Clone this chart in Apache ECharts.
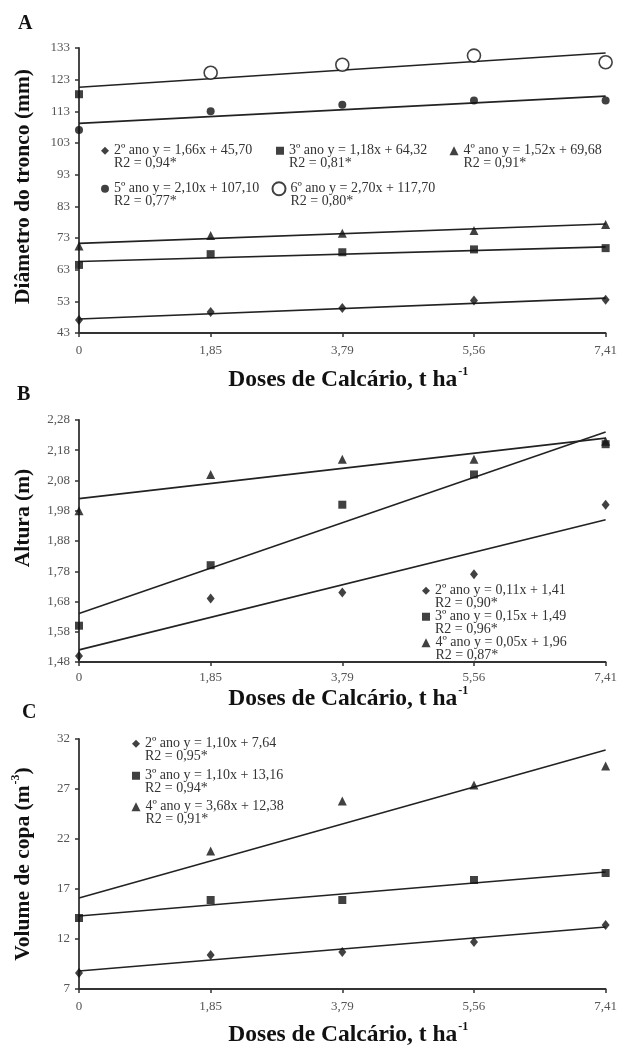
<!DOCTYPE html>
<html>
<head>
<meta charset="utf-8">
<script src="https://cdn.jsdelivr.net/npm/echarts@6/dist/echarts.min.js"></script>
<style>
html,body{margin:0;padding:0;background:#fff;}
#chart{width:620px;height:1048px;}
</style>
</head>
<body>
<div id="chart"></div>
<script>
// ---- categories & tick labels ----
const xLabels = ['0', '1,85', '3,79', '5,56', '7,41'];
const yTicksA = [43, 53, 63, 73, 83, 93, 103, 113, 123, 133];
const yTicksB = [1.48, 1.58, 1.68, 1.78, 1.88, 1.98, 2.08, 2.18, 2.28];
const yTicksC = [7, 12, 17, 22, 27, 32];

// ---- Panel A: Diâmetro do tronco (mm) ----
const a2 = [47.1, 49.6, 50.9, 53.3, 53.5];
const a3 = [64.5, 67.9, 68.5, 69.4, 69.8];
const a4 = [70.5, 73.8, 74.5, 75.4, 77.3];
const a5 = [107.1, 113.0, 115.1, 116.4, 116.4];
const a6 = [118.4, 125.2, 127.7, 130.6, 128.5];
const a2Fit = [47.4, 54.0];
const a3Fit = [65.6, 70.2];
const a4Fit = [71.3, 77.4];
const a5Fit = [109.2, 117.8];
const a6Fit = [120.6, 131.4];

// ---- Panel B: Altura (m) ----
const b2 = [1.50, 1.69, 1.71, 1.77, 2.00];
const b3 = [1.60, 1.80, 2.00, 2.10, 2.20];
const b4 = [1.98, 2.10, 2.15, 2.15, 2.21];
const b2Fit = [1.52, 1.95];
const b3Fit = [1.64, 2.24];
const b4Fit = [2.02, 2.22];

// ---- Panel C: Volume de copa (m-3) ----
const c2 = [8.6, 10.4, 10.7, 11.7, 13.4];
const c3 = [14.1, 15.9, 15.9, 17.9, 18.6];
const c4 = [null, 20.8, 25.8, 27.4, 29.3];
const c2Fit = [8.8, 13.2];
const c3Fit = [14.3, 18.7];
const c4Fit = [16.1, 30.9];

// ---- legend texts ----
const legendText = {
  'A2': '2º ano y = 1,66x + 45,70\nR2 = 0,94*',
  'A3': '3º ano y = 1,18x + 64,32\nR2 = 0,81*',
  'A4': '4º ano y = 1,52x + 69,68\nR2 = 0,91*',
  'A5': '5º ano y = 2,10x + 107,10\nR2 = 0,77*',
  'A6': '6º ano y = 2,70x + 117,70\nR2 = 0,80*',
  'B2': '2º ano y = 0,11x + 1,41\nR2 = 0,90*',
  'B3': '3º ano y = 0,15x + 1,49\nR2 = 0,96*',
  'B4': '4º ano y = 0,05x + 1,96\nR2 = 0,87*',
  'C2': '2º ano y = 1,10x + 7,64\nR2 = 0,95*',
  'C3': '3º ano y = 1,10x + 13,16\nR2 = 0,94*',
  'C4': '4º ano y = 3,68x + 12,38\nR2 = 0,91*'
};

const SERIF = '"Liberation Serif", "DejaVu Serif", serif';
const INK = '#111';

const symbols = {
  '2': {symbol: 'diamond', symbolSize: [8, 10]},
  '3': {symbol: 'rect', symbolSize: 8},
  '4': {symbol: 'triangle', symbolSize: 9},
  '5': {symbol: 'circle', symbolSize: 8},
  '6': {symbol: 'circle', symbolSize: 13}
};

function pts(name, idx, data) {
  const k = name.charAt(1);
  const s = {
    name: name, type: 'scatter', xAxisIndex: idx, yAxisIndex: idx,
    symbol: symbols[k].symbol, symbolSize: symbols[k].symbolSize,
    itemStyle: {color: INK},
    data: data, z: 5, silent: true
  };
  if (k === '6') s.itemStyle = {color: '#fff', borderColor: INK, borderWidth: 1.6};
  return s;
}
function fit(idx, vals) {
  return {
    type: 'line', xAxisIndex: idx, yAxisIndex: idx, symbol: 'none', silent: true,
    lineStyle: {color: '#222', width: 1.6},
    data: [[xLabels[0], vals[0]], [xLabels[xLabels.length - 1], vals[1]]], z: 3
  };
}
function legend(name, cx, y1, size) {
  const lh = 12.5;
  return {
    data: [name], left: cx - size / 2, top: y1 - 1.5 * lh, padding: 0,
    itemWidth: size, itemHeight: size, selectedMode: false,
    textStyle: {fontFamily: SERIF, fontSize: 14, color: '#333', lineHeight: lh},
    formatter: n => '\n' + legendText[n]
  };
}

const gridsPos = [
  {left: 79, right: 11, top: 48, height: 285},
  {left: 79, right: 11, top: 420, height: 242},
  {left: 79, right: 11, top: 739, height: 250}
];

const xRich = {
  t: {fontFamily: SERIF, fontSize: 23.5, fontWeight: 'bold', color: INK, lineHeight: 27},
  s: {fontFamily: SERIF, fontSize: 12, fontWeight: 'bold', color: INK, verticalAlign: 'top', lineHeight: 27, padding: [0, 0, 0, 1]}
};
const yRich = {
  t: {fontFamily: SERIF, fontSize: 21.5, fontWeight: 'bold', color: INK, lineHeight: 26},
  s: {fontFamily: SERIF, fontSize: 12, fontWeight: 'bold', color: INK, verticalAlign: 'top', lineHeight: 26, padding: [0, 0, 0, 1]}
};

function xAx(idx, nameGap, labelMargin) {
  return {
    type: 'category', gridIndex: idx, data: xLabels, boundaryGap: false,
    axisLine: {lineStyle: {color: '#333', width: 1.8}},
    axisTick: {length: 4, lineStyle: {color: '#333', width: 1.5}},
    axisLabel: {fontFamily: SERIF, fontSize: 13, color: '#555', margin: labelMargin},
    splitLine: {show: false},
    name: '{t|Doses de Calcário, t ha}{s|-1}', nameLocation: 'middle', nameGap: nameGap,
    nameTextStyle: {rich: xRich, padding: [0, 0, 0, 12]}
  };
}
function yAx(idx, min, max, ticks, fmt, name, nameGap, shift) {
  return {
    type: 'value', gridIndex: idx, min: min, max: max,
    axisLine: {show: true, lineStyle: {color: '#333', width: 1.8}},
    axisTick: {show: true, length: 4, customValues: ticks, lineStyle: {color: '#333', width: 1.5}},
    axisLabel: {fontFamily: SERIF, fontSize: 13, color: '#555', margin: 9, customValues: ticks, formatter: fmt},
    splitLine: {show: false},
    name: name, nameLocation: 'middle', nameRotate: 90, nameGap: nameGap,
    nameTextStyle: {rich: yRich, padding: [0, 0, 0, shift]}
  };
}

const option = {
  backgroundColor: '#fff',
  animation: false,
  grid: gridsPos,
  xAxis: [xAx(0, 33, 11), xAx(1, 23, 9), xAx(2, 32, 11)],
  yAxis: [
    yAx(0, 43, 133, yTicksA, v => String(v), '{t|Diâmetro do tronco (mm)}', 43, 8),
    yAx(1, 1.48, 2.28, yTicksB, v => v.toFixed(2).replace('.', ','), '{t|Altura (m)}', 43, 46),
    yAx(2, 7, 32, yTicksC, v => String(v), '{t|Volume de copa (m}{s|-3}{t|)}', 43, 0)
  ],
  legend: [
    legend('A2', 105, 150, 8), legend('A3', 280, 150, 8), legend('A4', 454, 150, 9),
    legend('A5', 105, 188, 8), legend('A6', 278, 188, 13),
    legend('B2', 426, 590, 8), legend('B3', 426, 616, 8), legend('B4', 426, 642, 9),
    legend('C2', 136, 743, 8), legend('C3', 136, 775, 8), legend('C4', 136, 806, 9)
  ],
  graphic: [
    {type: 'text', left: 18, top: 14, style: {text: 'A', font: 'bold 20px ' + SERIF, fill: INK}},
    {type: 'text', left: 17, top: 385, style: {text: 'B', font: 'bold 20px ' + SERIF, fill: INK}},
    {type: 'text', left: 22, top: 703, style: {text: 'C', font: 'bold 20px ' + SERIF, fill: INK}}
  ],
  series: [
    fit(0, a2Fit), fit(0, a3Fit), fit(0, a4Fit), fit(0, a5Fit), fit(0, a6Fit),
    pts('A2', 0, a2), pts('A3', 0, a3), pts('A4', 0, a4), pts('A5', 0, a5),
    pts('A6', 0, a6.map((v, i) => i === 0 ? {value: v, symbol: 'rect', symbolSize: 8, itemStyle: {color: INK, borderWidth: 0}} : v)),
    fit(1, b2Fit), fit(1, b3Fit), fit(1, b4Fit),
    pts('B2', 1, b2), pts('B3', 1, b3), pts('B4', 1, b4),
    fit(2, c2Fit), fit(2, c3Fit), fit(2, c4Fit),
    pts('C2', 2, c2), pts('C3', 2, c3), pts('C4', 2, c4)
  ]
};

const chart = echarts.init(document.getElementById('chart'), null, {renderer: 'canvas'});
chart.setOption(option);
</script>
</body>
</html>
